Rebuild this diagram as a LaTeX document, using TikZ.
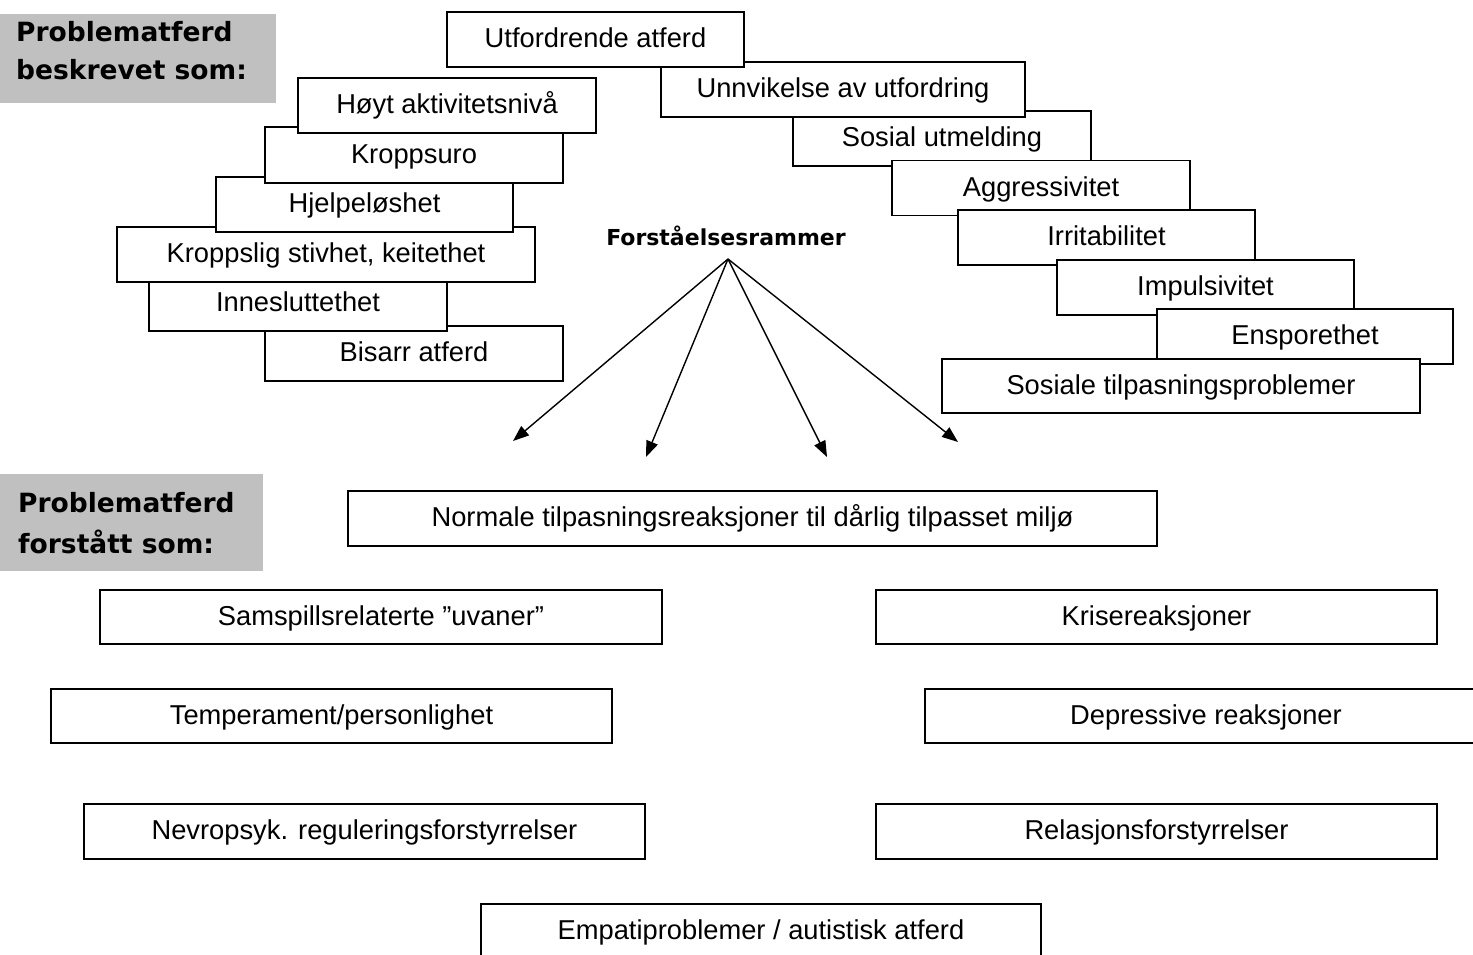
\documentclass[tikz,border=0pt]{standalone}
\usepackage{fontspec}
\setmainfont{Liberation Sans}
\newfontfamily\comicfont{DejaVu Sans}
\usetikzlibrary{arrows.meta}
\definecolor{labelgray}{HTML}{C0C0C0}
\begin{document}
\begin{tikzpicture}[x=1pt,y=-1pt,
  box/.style={draw=black, line width=1.8pt, fill=white, inner sep=0pt, rectangle,
    font=\fontsize{27.3}{30}\selectfont, text height=19.5pt, text depth=3pt},
  bsz/.style 2 args={minimum width=#1pt, minimum height=#2pt},
  arr/.style={line width=1.4pt, -{Triangle[length=16pt,width=12pt]}},
  lbl/.style={anchor=base west, inner sep=0pt, font=\comicfont\bfseries\fontsize{26.5}{32}\selectfont},
  frame/.style={anchor=base, inner sep=0pt, font=\comicfont\bfseries\fontsize{22}{26}\selectfont},
  graybg/.style={fill=labelgray, draw=none}
]
\useasboundingbox (0,0) rectangle (1473,955);
\clip (0,0) rectangle (1473,955);

% grey labels
\fill[graybg] (0,14) rectangle (276,103);
\node[lbl] (l1a) at (16,42) {Problematferd};
\node[lbl] (l1b) at (16,80) {beskrevet som:};
\fill[graybg] (0,474) rectangle (263,571);
\node[lbl] (l2a) at (18,512) {Problematferd};
\node[lbl] (l2b) at (18,553) {forstått som:};

% left stack (upper boxes on top)
\node[box, bsz={298}{55}] (bisarr) at (414,353.5) {Bisarr atferd};
\node[box, bsz={298}{55}] (innes) at (298,303.5) {Innesluttethet};
\node[box, bsz={418}{55}] (kroppslig) at (326,254.5) {Kroppslig stivhet, keitethet};
\node[box, bsz={297}{55}] (hjelp) at (364.5,204.5) {Hjelpeløshet};
\node[box, bsz={298}{56}] (kroppsuro) at (414,155) {Kroppsuro};
\node[box, bsz={298}{55}] (hoyt) at (447,105.5) {Høyt aktivitetsnivå};

% right stack
\node[box, bsz={298}{55}] (sosu) at (942,138.5) {Sosial utmelding};
\node[box, bsz={364}{55}] (unnv) at (843,89.5) {Unnvikelse av utfordring};
\node[box, bsz={297}{55}] (utf) at (595.5,39.5) {Utfordrende atferd};
\node[box, bsz={298}{55}] (aggr) at (1041,188) {Aggressivitet};
\node[box, bsz={297}{55}] (irr) at (1106.5,237.5) {Irritabilitet};
\node[box, bsz={297}{55}] (imp) at (1205.5,287.5) {Impulsivitet};
\node[box, bsz={296}{55}] (ens) at (1305,336.5) {Ensporethet};
\node[box, bsz={478}{54}] (sostil) at (1181,386) {Sosiale tilpasningsproblemer};

% Forstaelsesrammer and arrows
\node[frame] (ramme) at (726,245) {Forståelsesrammer};
\coordinate (apex) at (728,259);
\coordinate (t1) at (513,441);
\coordinate (t2) at (646,457);
\coordinate (t3) at (827,457);
\coordinate (t4) at (958,442);
\draw[arr] (apex) -- (t1);
\draw[arr] (apex) -- (t2);
\draw[arr] (apex) -- (t3);
\draw[arr] (apex) -- (t4);

% lower boxes
\node[box, bsz={809}{55}] (normale) at (752.5,518.5) {Normale tilpasningsreaksjoner til dårlig tilpasset miljø};
\node[box, bsz={562}{54}] (samspill) at (381,617) {Samspillsrelaterte ”uvaner”};
\node[box, bsz={561}{54}] (krise) at (1156.5,617) {Krisereaksjoner};
\node[box, bsz={561}{54}] (temp) at (331.5,716) {Temperament/personlighet};
\node[box, bsz={562}{54}] (depr) at (1206,716) {Depressive reaksjoner};
\node[box, bsz={561}{55}] (nevro) at (364.5,831.5) {Nevropsyk. reguleringsforstyrrelser};
\node[box, bsz={561}{55}] (relasj) at (1156.5,831.5) {Relasjonsforstyrrelser};
\node[box, bsz={560}{55}] (empati) at (761,931.5) {Empatiproblemer / autistisk atferd};
\end{tikzpicture}
\end{document}
